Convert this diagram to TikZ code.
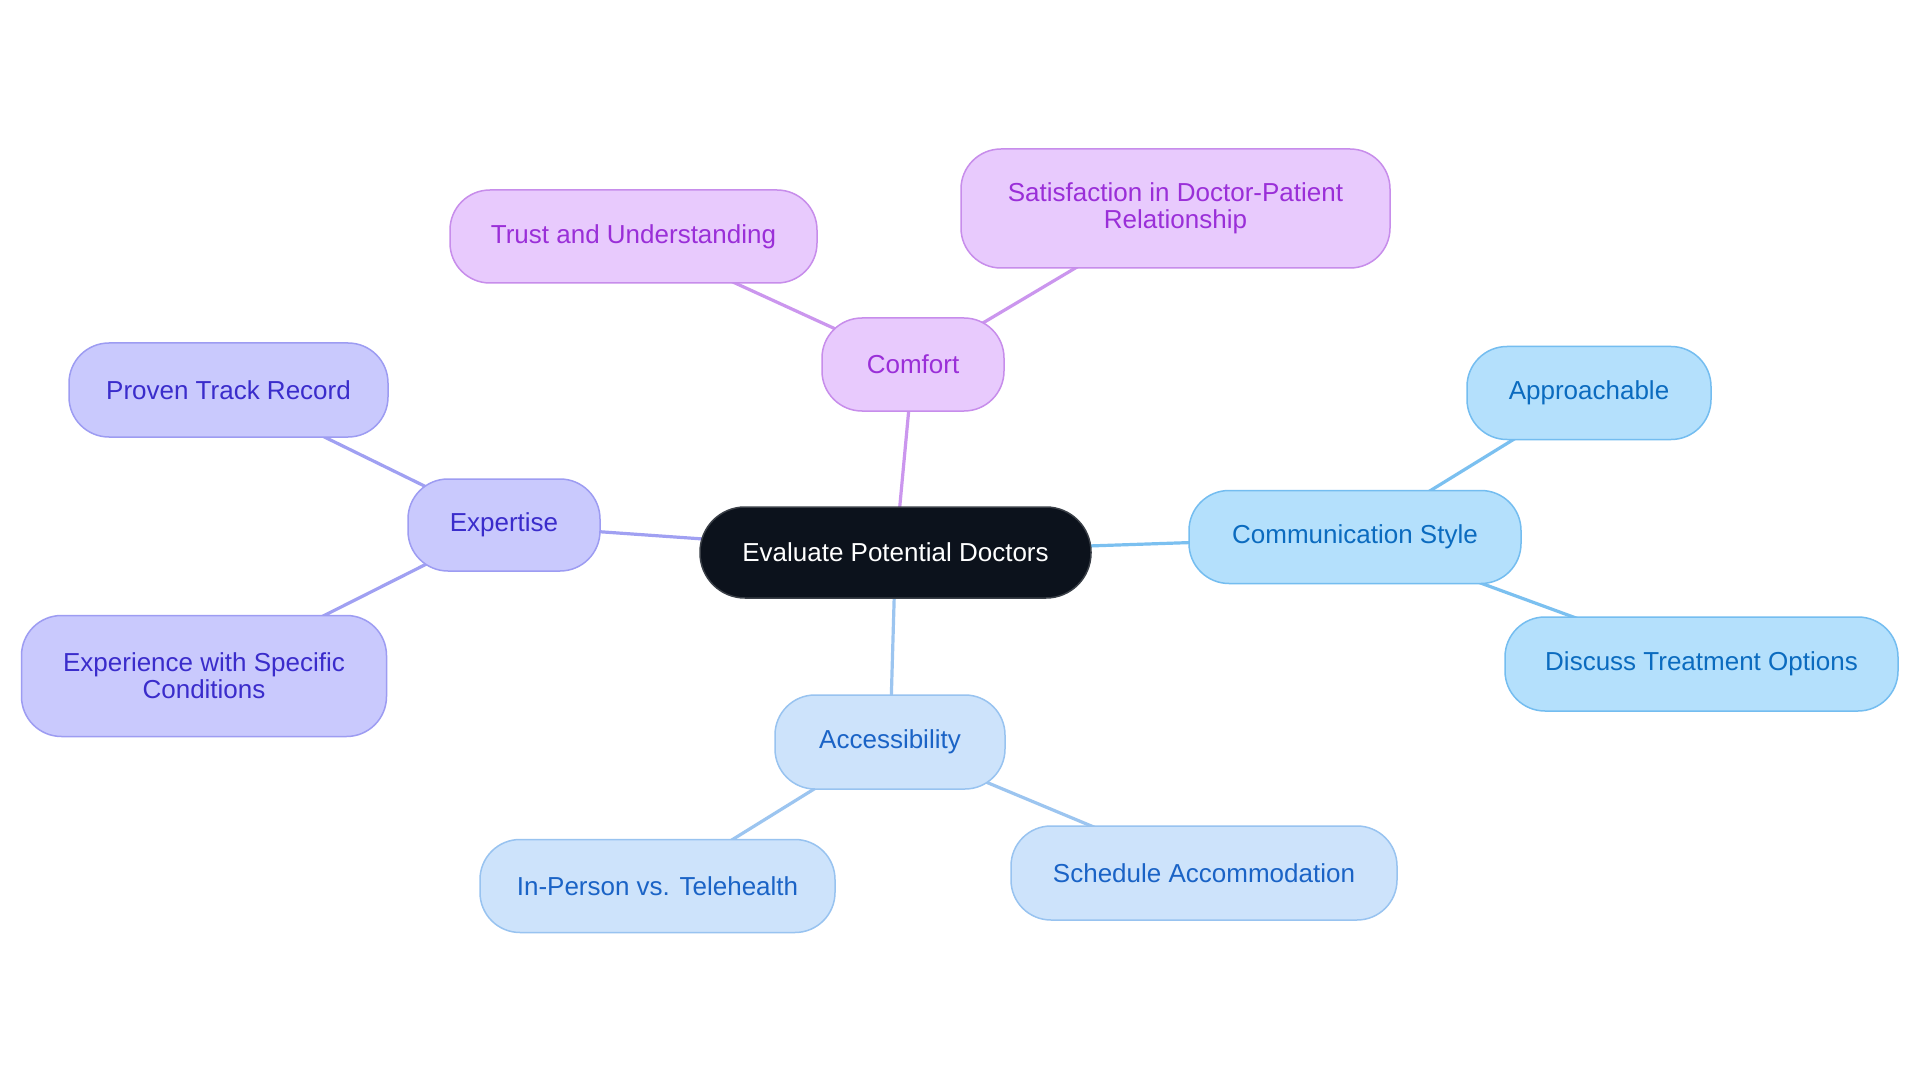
\documentclass[tikz,border=0pt]{standalone}
\usepackage{fontspec}
\setmainfont{Liberation Sans}
\usetikzlibrary{backgrounds}
\definecolor{rootfill}{HTML}{0C121C}
\definecolor{rootdraw}{HTML}{3A3F47}
\definecolor{cmffill}{HTML}{E8CAFD}
\definecolor{cmfdraw}{HTML}{C78DEB}
\definecolor{cmfline}{HTML}{CB96EE}
\definecolor{cmftext}{HTML}{9A2FD8}
\definecolor{expfill}{HTML}{C9C9FD}
\definecolor{expdraw}{HTML}{9D9CF2}
\definecolor{expline}{HTML}{A0A0F2}
\definecolor{exptext}{HTML}{3A2CCB}
\definecolor{comfill}{HTML}{B4E0FC}
\definecolor{comdraw}{HTML}{74BDF0}
\definecolor{comline}{HTML}{7BC0F0}
\definecolor{comtext}{HTML}{0B6BBF}
\definecolor{accfill}{HTML}{CDE3FB}
\definecolor{accdraw}{HTML}{98C3F0}
\definecolor{accline}{HTML}{9CC5F0}
\definecolor{acctext}{HTML}{1A63C6}
\tikzset{
  box/.style={rectangle, rounded corners=40pt, line width=1.5pt, inner sep=0pt,
    align=center, font=\fontsize{26}{27}\selectfont},
  rootbox/.style={box, rounded corners=45pt, fill=rootfill, draw=rootdraw, text=white},
  cmfbox/.style={box, fill=cmffill, draw=cmfdraw, text=cmftext},
  expbox/.style={box, fill=expfill, draw=expdraw, text=exptext},
  combox/.style={box, fill=comfill, draw=comdraw, text=comtext},
  accbox/.style={box, fill=accfill, draw=accdraw, text=acctext},
  link/.style={line width=3.2pt},
  sz/.style 2 args={minimum width=#1pt, minimum height=#2pt}
}
\begin{document}
\begin{tikzpicture}[x=1pt,y=-1pt]
\useasboundingbox (0,0) rectangle (1920,1083);
\node[rootbox, sz={391}{91}] (root) at (895.5,552.5) {Evaluate Potential Doctors};
\node[cmfbox, sz={182}{93}] (comfort) at (913,364.5) {Comfort};
\node[cmfbox, sz={367}{93}] (trust) at (633.5,236.5) {Trust and Understanding};
\node[cmfbox, sz={429}{119}] (satis) at (1175.5,208.5) {Satisfaction in Doctor-Patient\\Relationship};
\node[expbox, sz={192}{92}] (expertise) at (504,525) {Expertise};
\node[expbox, sz={319}{94}] (proven) at (228.5,390) {Proven Track Record};
\node[expbox, sz={365}{121}] (experience) at (204,676) {Experience with Specific\\Conditions};
\node[combox, sz={332}{93}] (comm) at (1355,537) {Communication Style};
\node[combox, sz={244}{93}] (approach) at (1589,393) {Approachable};
\node[combox, sz={393}{94}] (discuss) at (1701.5,664) {Discuss Treatment Options};
\node[accbox, sz={230}{94}] (access) at (890,742) {Accessibility};
\node[accbox, sz={355}{93}] (inperson) at (657.5,886) {In-Person vs. Telehealth};
\node[accbox, sz={386}{94}] (schedule) at (1204,873) {Schedule Accommodation};
\begin{pgfonlayer}{background}
\fill[white] (0,0) rectangle (1920,1083);
\draw[link, draw=cmfline] (root.center) -- (comfort.center);
\draw[link, draw=cmfline] (comfort.center) -- (trust.center);
\draw[link, draw=cmfline] (comfort.center) -- (satis.center);
\draw[link, draw=expline] (root.center) -- (expertise.center);
\draw[link, draw=expline] (expertise.center) -- (proven.center);
\draw[link, draw=expline] (expertise.center) -- (experience.center);
\draw[link, draw=comline] (root.center) -- (comm.center);
\draw[link, draw=comline] (comm.center) -- (approach.center);
\draw[link, draw=comline] (comm.center) -- (discuss.center);
\draw[link, draw=accline] (root.center) -- (access.center);
\draw[link, draw=accline] (access.center) -- (inperson.center);
\draw[link, draw=accline] (access.center) -- (schedule.center);
\end{pgfonlayer}
\end{tikzpicture}
\end{document}
